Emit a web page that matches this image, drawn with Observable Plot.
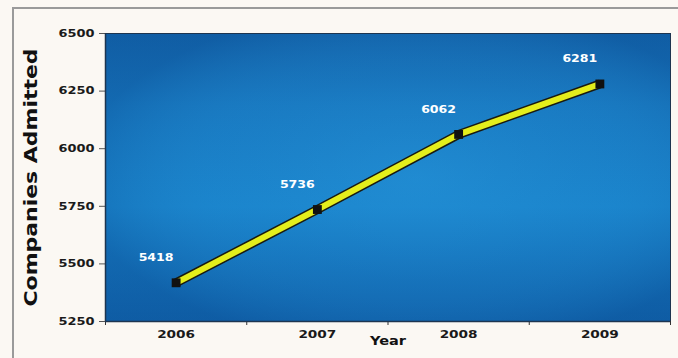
<!DOCTYPE html>
<html>
<head>
<meta charset="utf-8">
<script src="https://cdn.jsdelivr.net/npm/d3@7"></script>
<script src="https://cdn.jsdelivr.net/npm/@observablehq/plot@0.6"></script>
<style>
  html, body { margin: 0; padding: 0; background: #fbf8f3; overflow: hidden; }
  #wrap { position: relative; width: 678px; height: 358px; }
  #border { position: absolute; left: 12px; top: 7px; width: 700px; height: 400px;
            border: 2px solid #9a9a9a; box-sizing: border-box; pointer-events: none; }
</style>
</head>
<body>
<div id="wrap"><div id="border"></div></div>
<script>
const years = [2006, 2007, 2008, 2009];
const admitted = [5418, 5736, 6062, 6281];
const yTicks = [5250, 5500, 5750, 6000, 6250, 6500];
const data = years.map((y, i) => ({year: y, value: admitted[i]}));
const boundaries = [2005.5, 2006.5, 2007.5, 2008.5, 2009.5];
const font = "'DejaVu Sans', 'Liberation Sans', Arial, sans-serif";

const chart = Plot.plot({
  width: 678,
  height: 358,
  marginLeft: 105,
  marginRight: 8,
  marginTop: 33,
  marginBottom: 37,
  style: {background: "transparent", fontFamily: font},
  x: {domain: [2005.5, 2009.5]},
  y: {domain: [5250, 6500]},
  marks: [
    Plot.frame({fill: "url(#bgGrad)", stroke: "none"}),
    Plot.frame({fill: "url(#bgRad)", stroke: "none"}),
    Plot.frame({stroke: "#1d3550", strokeWidth: 1}),
    Plot.axisY({ticks: yTicks, tickSize: 6, tickPadding: 5, tickFormat: d => String(d),
      fontSize: 10, fontWeight: "bold", fill: "#1a1a1a", stroke: "#555", label: null,
      className: "ytick"}),
    Plot.axisX({ticks: years, tickSize: 0, tickPadding: 9, tickFormat: d => String(d),
      fontSize: 10, fontWeight: "bold", fill: "#1a1a1a", label: null, className: "xtick"}),
    Plot.axisX({ticks: boundaries, tickSize: 4, tickFormat: () => "", stroke: "#333", label: null}),
    Plot.ruleX([2005.5], {stroke: "#1d3550", strokeWidth: 1.5}),
    Plot.ruleY([5250], {stroke: "#1d3550", strokeWidth: 1.5}),
    Plot.line(data, {x: "year", y: "value", stroke: "#1a1a10", strokeWidth: 9, strokeLinecap: "butt"}),
    Plot.line(data, {x: "year", y: "value", stroke: "#e4ee1c", strokeWidth: 6, strokeLinecap: "butt"}),
    Plot.dot(data, {x: "year", y: "value", symbol: "square", r: 5, fill: "#111", stroke: "none"}),
    Plot.text(data, {x: "year", y: "value", text: d => String(d.value), dx: -20, dy: -25,
      fill: "white", fontSize: 10, fontWeight: "bold", className: "dlabel"}),
    Plot.text(["Companies Admitted"], {frameAnchor: "left", dx: -74, rotate: -90, textAnchor: "middle",
      fontSize: 17, fontWeight: "bold", fill: "#111", className: "ytitle"}),
    Plot.text(["Year"], {frameAnchor: "bottom", dy: 23, fontSize: 12, fontWeight: "bold",
      fill: "#111", className: "xtitle"})
  ]
});

const ns = "http://www.w3.org/2000/svg";
const defs = document.createElementNS(ns, "defs");
defs.innerHTML = `
  <linearGradient id="bgGrad" x1="0" y1="0" x2="0" y2="1">
    <stop offset="0" stop-color="#1465ac"/>
    <stop offset="0.25" stop-color="#1878c0"/>
    <stop offset="0.6" stop-color="#1a84cc"/>
    <stop offset="1" stop-color="#1163ac"/>
  </linearGradient>
  <radialGradient id="bgRad" cx="0.55" cy="0.5" r="0.6">
    <stop offset="0" stop-color="#2a9ade" stop-opacity="0.4"/>
    <stop offset="0.6" stop-color="#2590d4" stop-opacity="0.12"/>
    <stop offset="1" stop-color="#0a4f95" stop-opacity="0.35"/>
  </radialGradient>`;
chart.insertBefore(defs, chart.firstChild);

function stretch(sel, len) {
  chart.querySelectorAll(sel + " text").forEach(t => {
    t.setAttribute("textLength", len);
    t.setAttribute("lengthAdjust", "spacingAndGlyphs");
  });
}
stretch(".ytick", 36);
stretch(".xtick", 38);
stretch(".dlabel", 35);
stretch(".ytitle", 258);
stretch(".xtitle", 36);

chart.style.position = "absolute";
chart.style.left = "0";
chart.style.top = "0";
document.getElementById("wrap").appendChild(chart);
</script>
</body>
</html>
